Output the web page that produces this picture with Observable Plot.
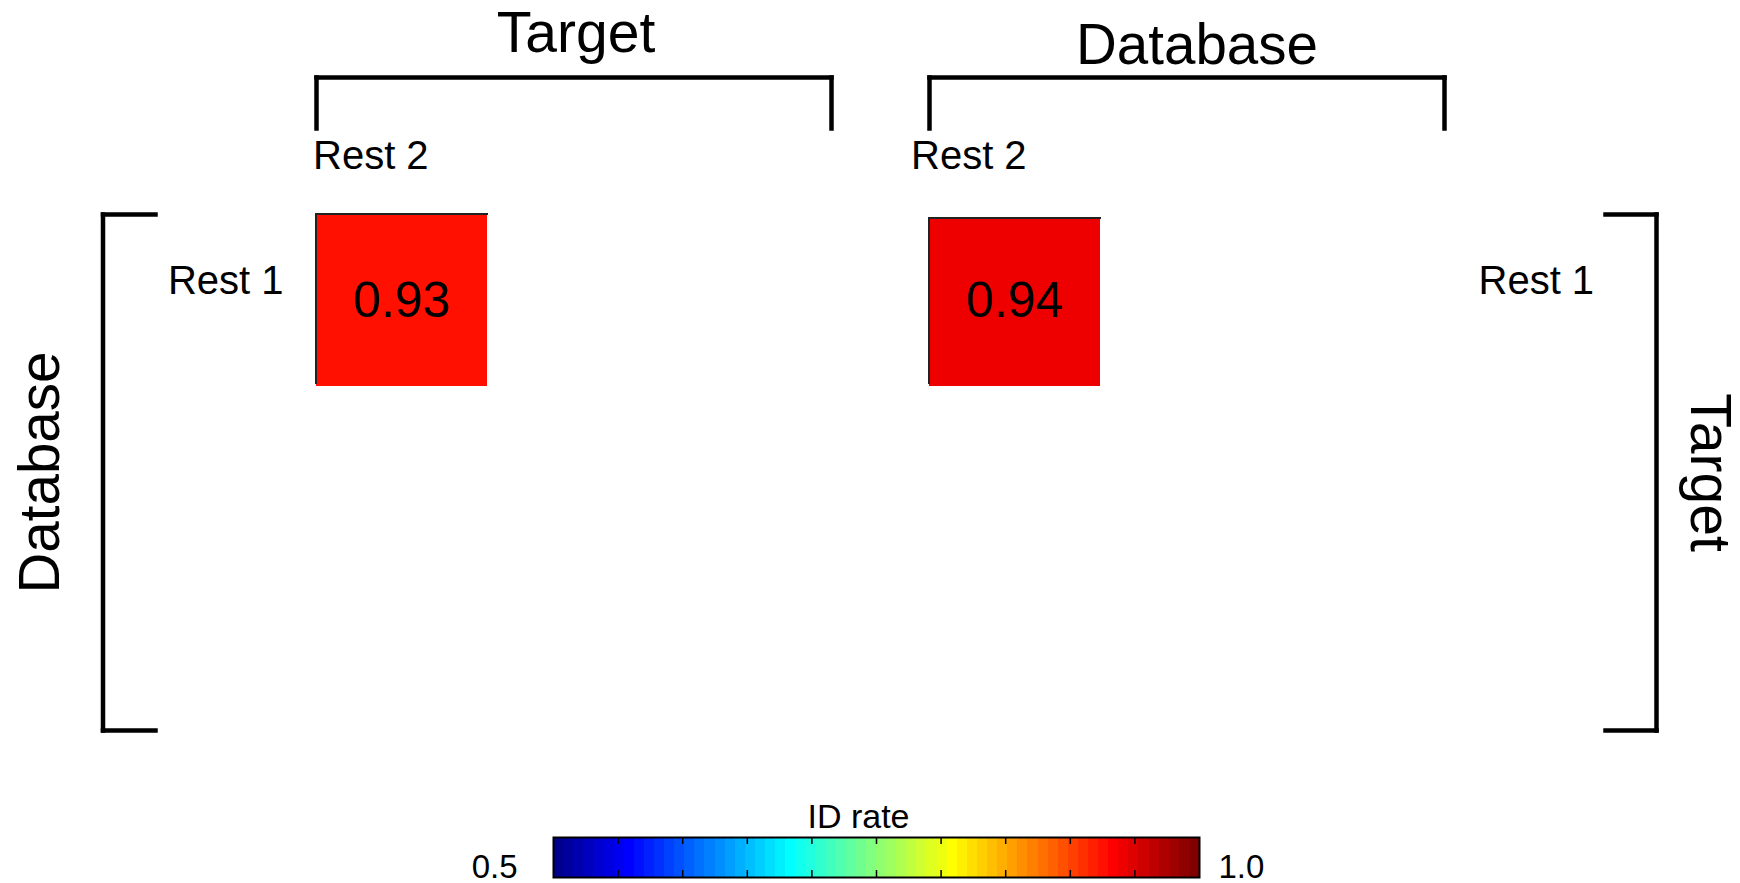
<!DOCTYPE html>
<html><head><meta charset="utf-8">
<script src="https://cdn.jsdelivr.net/npm/d3@7"></script>
<script src="https://cdn.jsdelivr.net/npm/@observablehq/plot@0.6"></script>
<style>
html,body{margin:0;padding:0;background:#fff;overflow:hidden;}
#chart svg{display:block;}
</style></head><body><div id="chart"></div>
<script>
// ---- data ----
const panels = ["Target × Database", "Database × Target"];
const columnGroups = ["Target", "Database"];
const rowGroups = ["Database", "Target"];
const columnLabels = ["Rest 2", "Rest 2"];
const rowLabels = ["Rest 1", "Rest 1"];
const idRates = [0.928, 0.94];
const colorbarTitle = "ID rate";
const colorbarEnds = [0.5, 1.0];
const colorbarTicks = [0.55, 0.6, 0.65, 0.7, 0.75, 0.8, 0.85, 0.9, 0.95];

// ---- jet(64) colormap ----
function jet(m) {
  const n = Math.ceil(m / 4);
  const u = [...d3.range(1, n + 1).map(i => i / n), ...Array(n - 1).fill(1), ...d3.range(n, 0, -1).map(i => i / n)];
  const g0 = Math.ceil(n / 2) - (m % 4 === 1 ? 1 : 0);
  const out = [];
  for (let k = 1; k <= m; k++) {
    const ri = k - g0 - n, gi = k - g0, bi = k - g0 + n;
    const r = ri >= 1 && ri <= u.length ? u[ri - 1] : 0;
    const g = gi >= 1 && gi <= u.length ? u[gi - 1] : 0;
    const b = bi >= 1 && bi <= u.length ? u[bi - 1] : 0;
    out.push(d3.rgb(Math.round(r * 255), Math.round(g * 255), Math.round(b * 255)).formatHex());
  }
  return out;
}
const jetColors = jet(64);
const [lo, hi] = colorbarEnds;
const colorScale = {
  type: "threshold",
  domain: d3.range(1, jetColors.length).map(i => lo + i * (hi - lo) / jetColors.length),
  range: jetColors
};

const cells = panels.map((panel, i) => ({panel, column: columnLabels[i], row: rowLabels[i], value: idRates[i]}));
const font = "'Liberation Sans', Arial, Helvetica, sans-serif";
const bracket = {stroke: "black", strokeWidth: 4.5, strokeLinecap: "square"};
const fmt = d3.format(".2f");
const cellOpts = {fx: "panel", x: "column", y: "row"};

const main = Plot.plot({
  width: 1740, height: 760,
  marginLeft: 315, marginRight: 295, marginTop: 214, marginBottom: 30,
  style: {fontFamily: font, color: "black", background: "white", overflow: "visible"},
  fx: {domain: panels, paddingInner: 0.1596, paddingOuter: 0, axis: null},
  x: {domain: [...new Set(columnLabels)], paddingInner: 0, paddingOuter: 1, align: 0, axis: null},
  y: {domain: [...new Set(rowLabels)], paddingInner: 0, paddingOuter: 1, align: 0},
  color: colorScale,
  marks: [
    Plot.cell(cells, {...cellOpts, filter: d => d.panel === panels[0], fill: "value", inset: 0, shapeRendering: "crispEdges"}),
    Plot.cell(cells, {...cellOpts, filter: d => d.panel === panels[1], fill: "value", inset: 0, insetTop: 4, shapeRendering: "crispEdges"}),
    Plot.cell(cells, {...cellOpts, filter: d => d.panel === panels[0], fill: "none", stroke: "#222", strokeWidth: 2, strokeDasharray: "172 344 172"}),
    Plot.cell(cells, {...cellOpts, filter: d => d.panel === panels[1], insetTop: 4, fill: "none", stroke: "#222", strokeWidth: 2, strokeDasharray: "172 340 168"}),
    Plot.text(cells, {...cellOpts, text: d => fmt(d.value), fontSize: 50, fill: "black"}),
    Plot.axisY({anchor: "left", tickSize: 0, tickPadding: 33, fontSize: 40, dy: -19, label: null}),
    Plot.axisY({anchor: "right", tickSize: 0, tickPadding: 34, fontSize: 40, dy: -19, label: null}),
    Plot.text([cells[0]], {fx: "panel", x: "column", text: "column", frameAnchor: "top", textAnchor: "start", lineAnchor: "bottom", dx: -89, dy: -46, fontSize: 40}),
    Plot.text([cells[1]], {fx: "panel", x: "column", text: "column", frameAnchor: "top", textAnchor: "start", lineAnchor: "bottom", dx: -104, dy: -46, fontSize: 40}),
    // top brackets
    Plot.frame({...bracket, anchor: "top", dy: -137}),
    Plot.frame({...bracket, anchor: "left", dy: -137, insetBottom: 465}),
    Plot.frame({...bracket, anchor: "right", dy: -137, insetBottom: 465}),
    // side brackets
    Plot.frame({...bracket, anchor: "left", fx: () => panels[0], dx: -213.5}),
    Plot.frame({...bracket, anchor: "top", fx: () => panels[0], dx: -213.5, insetRight: 462.5}),
    Plot.frame({...bracket, anchor: "bottom", fx: () => panels[0], dx: -213.5, insetRight: 462.5}),
    Plot.frame({...bracket, anchor: "right", fx: () => panels[1], dx: 212}),
    Plot.frame({...bracket, anchor: "top", fx: () => panels[1], dx: 212, insetLeft: 464}),
    Plot.frame({...bracket, anchor: "bottom", fx: () => panels[1], dx: 212, insetLeft: 464}),
    // group titles
    Plot.text([columnGroups[0]], {fx: () => panels[0], text: d => d, frameAnchor: "top", textAnchor: "middle", lineAnchor: "bottom", dx: 2, dy: -163, fontSize: 57}),
    Plot.text([columnGroups[1]], {fx: () => panels[1], text: d => d, frameAnchor: "top", textAnchor: "middle", lineAnchor: "bottom", dx: 10, dy: -151, fontSize: 56.5}),
    Plot.text([rowGroups[0]], {fx: () => panels[0], text: d => d, frameAnchor: "left", textAnchor: "middle", rotate: -90, dx: -276, fontSize: 56.5}),
    Plot.text([rowGroups[1]], {fx: () => panels[1], text: d => d, frameAnchor: "right", textAnchor: "middle", rotate: 90, dx: 265, fontSize: 57})
  ]
});

const bins = jetColors.map((c, i) => ({x1: lo + i * (hi - lo) / jetColors.length, x2: lo + (i + 1) * (hi - lo) / jetColors.length}));
const bar = Plot.plot({
  width: 1740, height: 123,
  marginLeft: 553, marginRight: 541, marginTop: 77, marginBottom: 6,
  style: {fontFamily: font, color: "black", background: "white", overflow: "visible"},
  x: {domain: colorbarEnds, axis: null},
  color: colorScale,
  marks: [
    Plot.rect(bins, {x1: "x1", x2: "x2", fill: d => (d.x1 + d.x2) / 2, shapeRendering: "crispEdges"}),
    Plot.tickX(colorbarTicks, {x: d => d, insetBottom: 33, stroke: "black", strokeWidth: 1.5}),
    Plot.tickX(colorbarTicks, {x: d => d, insetTop: 33, stroke: "black", strokeWidth: 1.5}),
    Plot.frame({stroke: "black", strokeWidth: 2}),
    Plot.text([colorbarTitle], {text: d => d, frameAnchor: "top", textAnchor: "middle", lineAnchor: "bottom", dx: -18, dy: -10, fontSize: 34}),
    Plot.text([colorbarEnds[0]], {x: d => d, text: d => d.toFixed(1), frameAnchor: "bottom", lineAnchor: "bottom", textAnchor: "end", dx: -36, dy: 0, fontSize: 33}),
    Plot.text([colorbarEnds[1]], {x: d => d, text: d => d.toFixed(1), frameAnchor: "bottom", lineAnchor: "bottom", textAnchor: "start", dx: 19, dy: 0, fontSize: 33})
  ]
});

const root = document.getElementById("chart");
root.append(main, bar);
</script></body></html>
